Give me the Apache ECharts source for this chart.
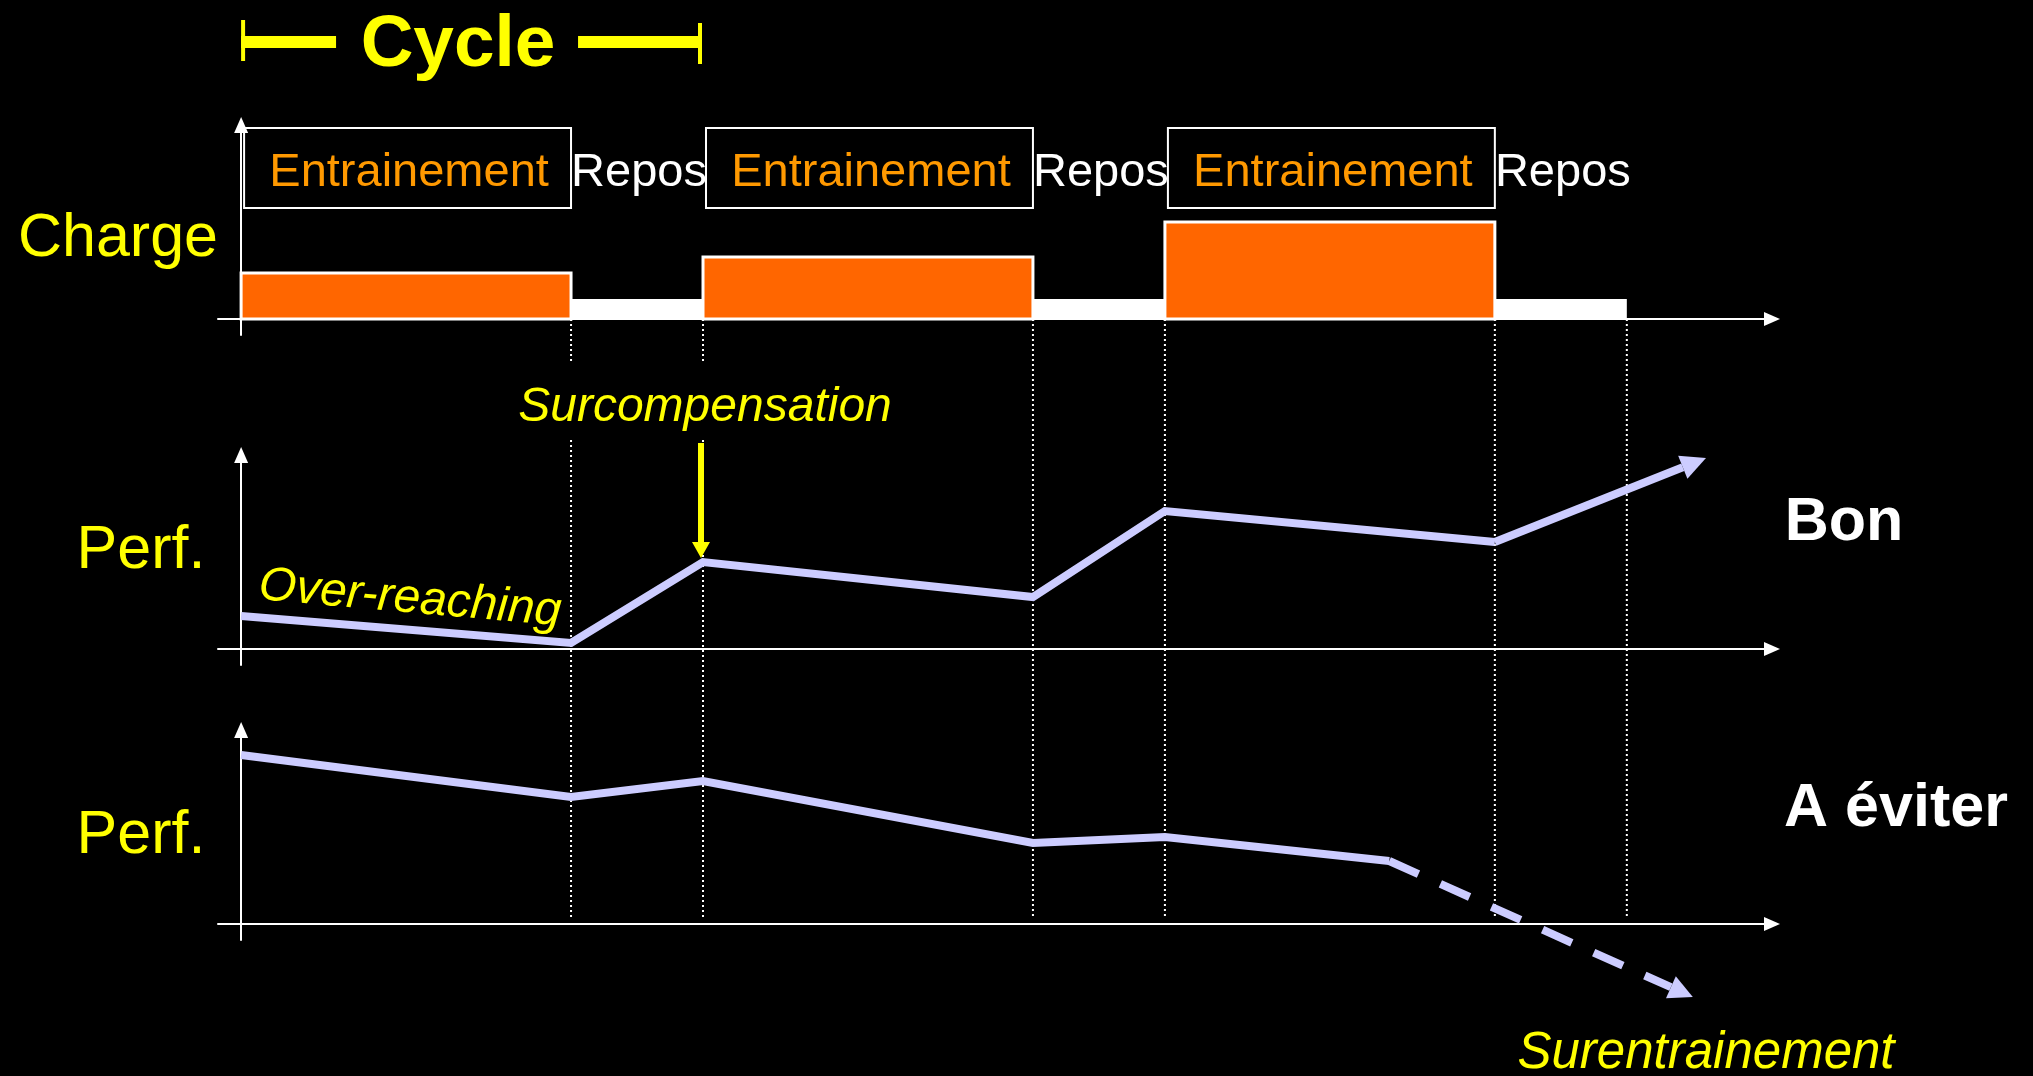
<!DOCTYPE html>
<html>
<head>
<meta charset="utf-8">
<style>
  html, body { margin: 0; padding: 0; background: #000; }
  #chart { width: 2033px; height: 1076px; }
</style>
<script src="https://cdn.jsdelivr.net/npm/echarts@6/dist/echarts.min.js"></script>
</head>
<body>
<div id="chart"></div>
<script>
// Training cycle: alternating load and recovery phases (time in weeks)
const phaseNames   = ['Entrainement', 'Repos', 'Entrainement', 'Repos', 'Entrainement', 'Repos'];
const phaseStart   = [0, 5, 7, 12, 14, 19];
const phaseEnd     = [5, 7, 12, 14, 19, 21];
const chargeValues = [4.6, 2.0, 6.2, 2.0, 9.7, 2.0];

// Performance when recovery is sufficient
const bonX        = [0, 5, 7, 12, 14, 19];
const bonPerf     = [3.3, 0.6, 8.7, 5.2, 13.8, 10.7];
const bonTrendEnd = [22.2, 19.1];

// Performance when recovery is insufficient
const eviterX        = [0, 5, 7, 12, 14, 17.4];
const eviterPerf     = [16.9, 12.7, 14.3, 8.1, 8.7, 6.3];
const eviterTrendEnd = [22.0, -7.3];

const FONT = '"Liberation Sans", Arial, Helvetica, sans-serif';
const YELLOW = '#FFFF00';
const LAVENDER = '#CCCCFF';
const X_MIN = -0.35, X_MAX = 23.2;
const Y_MIN = -1.6, Y_MAX = 19.4;

const chart = echarts.init(document.getElementById('chart'));

function xAxisFor(grid, visible) {
  return {
    type: 'value', gridIndex: grid, min: X_MIN, max: X_MAX, show: visible,
    axisLine: { show: true, onZero: true, symbol: ['none', 'triangle'], symbolSize: [14, 16],
                lineStyle: { color: '#fff', width: 2 } },
    axisTick: { show: false }, axisLabel: { show: false }, splitLine: { show: false }
  };
}
function yAxisFor(grid) {
  return {
    type: 'value', gridIndex: grid, min: Y_MIN, max: Y_MAX,
    axisLine: { show: true, onZero: true, symbol: ['none', 'triangle'], symbolSize: [14, 16],
                lineStyle: { color: '#fff', width: 2 } },
    axisTick: { show: false }, axisLabel: { show: false }, splitLine: { show: false }
  };
}

// Straight segment ending with a filled arrow head
function arrowChildren(from, to, color, width, headLen, headWidth, dash) {
  const dx = to[0] - from[0], dy = to[1] - from[1];
  const len = Math.hypot(dx, dy);
  const ux = dx / len, uy = dy / len;
  const bx = to[0] - ux * headLen, by = to[1] - uy * headLen;
  const nx = -uy * headWidth / 2, ny = ux * headWidth / 2;
  return [
    { type: 'line', shape: { x1: from[0], y1: from[1], x2: bx, y2: by },
      style: { stroke: color, lineWidth: width, lineDash: dash || null, lineCap: 'butt' } },
    { type: 'polygon', shape: { points: [[to[0], to[1]], [bx + nx, by + ny], [bx - nx, by - ny]] },
      style: { fill: color } }
  ];
}

const phaseData = phaseNames.map((n, i) => [phaseStart[i], phaseEnd[i], chargeValues[i], i]);

const option = {
  backgroundColor: '#000',
  animation: false,
  grid: [
    { left: 218, width: 1554, top: 125, height: 210 },
    { left: 218, width: 1554, top: 455, height: 210 },
    { left: 218, width: 1554, top: 730, height: 210 },
    { left: 218, width: 1554, top: 319, height: 598 }
  ],
  xAxis: [xAxisFor(0, true), xAxisFor(1, true), xAxisFor(2, true), xAxisFor(3, false)],
  yAxis: [yAxisFor(0), yAxisFor(1), yAxisFor(2),
          { type: 'value', gridIndex: 3, min: 0, max: 598, inverse: true, show: false }],
  series: [
    // phase boundaries, dotted, running through all three panels
    {
      type: 'custom', name: 'limites', xAxisIndex: 3, yAxisIndex: 3, z: 1, clip: false,
      data: phaseEnd.map(x => [x]),
      renderItem(params, api) {
        const x = api.value(0);
        const top = api.coord([x, 0]), bottom = api.coord([x, 598]);
        const style = { stroke: '#fff', lineWidth: 2, lineDash: [2, 3] };
        const ranges = x <= phaseStart[2] ? [[0, 43], [121, 598]] : [[0, 598]];
        return { type: 'group', children: ranges.map(r => ({
          type: 'line',
          shape: { x1: top[0], y1: api.coord([x, r[0]])[1], x2: bottom[0], y2: api.coord([x, r[1]])[1] },
          style
        })) };
      }
    },
    // load bars
    {
      type: 'custom', name: 'Charge', xAxisIndex: 0, yAxisIndex: 0, z: 3, clip: false,
      data: phaseData,
      renderItem(params, api) {
        const i = api.value(3);
        const p0 = api.coord([api.value(0), api.value(2)]);
        const p1 = api.coord([api.value(1), 0]);
        const training = phaseNames[i] === 'Entrainement';
        return {
          type: 'rect',
          shape: { x: p0[0], y: p0[1], width: p1[0] - p0[0], height: p1[1] - p0[1] },
          style: { fill: training ? '#FF6600' : '#FFFFFF', stroke: '#FFFFFF', lineWidth: training ? 3 : 0 }
        };
      }
    },
    // phase names above the bars
    {
      type: 'custom', name: 'phases', xAxisIndex: 0, yAxisIndex: 0, z: 3, clip: false,
      data: phaseData,
      renderItem(params, api) {
        const i = api.value(3);
        const a = api.coord([api.value(0), 0]);
        const b = api.coord([api.value(1), 0]);
        const training = phaseNames[i] === 'Entrainement';
        const children = [];
        if (training) {
          children.push({ type: 'rect',
            shape: { x: a[0] + 3, y: a[1] - 191, width: b[0] - a[0] - 3, height: 80 },
            style: { fill: null, stroke: '#fff', lineWidth: 2 } });
        }
        children.push({ type: 'text', x: (a[0] + b[0]) / 2 + (training ? 3 : 2), y: a[1] - 146,
          style: { text: phaseNames[i], fill: training ? '#FF9900' : '#FFFFFF',
                   font: '47px ' + FONT, align: 'center', verticalAlign: 'middle' } });
        return { type: 'group', children };
      }
    },
    // one cycle = one training block plus its rest
    {
      type: 'custom', name: 'cycle', xAxisIndex: 0, yAxisIndex: 0, z: 3, clip: false,
      data: [[phaseStart[0], phaseEnd[1]]],
      renderItem(params, api) {
        const a = api.coord([api.value(0), 0]);
        const b = api.coord([api.value(1), 0]);
        const y = a[1] - 277;
        const cx = (a[0] + b[0]) / 2 - 14;
        return { type: 'group', children: [
          { type: 'rect', shape: { x: a[0], y: y - 22, width: 4, height: 41 }, style: { fill: YELLOW } },
          { type: 'rect', shape: { x: a[0], y: y - 6, width: cx - 122 - a[0], height: 12 }, style: { fill: YELLOW } },
          { type: 'rect', shape: { x: cx + 120, y: y - 6, width: b[0] - 4 - cx - 120, height: 12 }, style: { fill: YELLOW } },
          { type: 'rect', shape: { x: b[0] - 5, y: y - 19, width: 4, height: 41 }, style: { fill: YELLOW } },
          { type: 'text', x: cx, y: y + 4,
            style: { text: 'Cycle', fill: YELLOW, font: 'bold 73px ' + FONT, align: 'center', verticalAlign: 'middle' } }
        ] };
      }
    },
    // good adaptation
    {
      type: 'line', name: 'Bon', xAxisIndex: 1, yAxisIndex: 1, z: 4,
      symbol: 'none', clip: false,
      data: bonX.map((x, i) => [x, bonPerf[i]]),
      lineStyle: { color: LAVENDER, width: 8, join: 'miter' }
    },
    {
      type: 'custom', name: 'Bon tendance', xAxisIndex: 1, yAxisIndex: 1, z: 4, clip: false,
      data: [[bonX[bonX.length - 1], bonPerf[bonPerf.length - 1], bonTrendEnd[0], bonTrendEnd[1]]],
      renderItem(params, api) {
        const from = api.coord([api.value(0), api.value(1)]);
        const to = api.coord([api.value(2), api.value(3)]);
        return { type: 'group', children: arrowChildren(from, to, LAVENDER, 8, 25, 25) };
      }
    },
    // supercompensation peak after the first rest
    {
      type: 'custom', name: 'surcompensation', xAxisIndex: 1, yAxisIndex: 1, z: 5, clip: false,
      data: [[bonX[2], bonPerf[2]]],
      renderItem(params, api) {
        const p = api.coord([api.value(0), api.value(1)]);
        const tip = [p[0] - 2, p[1] - 4];
        const start = [tip[0], tip[1] - 115];
        return { type: 'group', children: arrowChildren(start, tip, YELLOW, 6, 16, 18).concat([
          { type: 'text', x: p[0] + 2, y: start[1] - 35,
            style: { text: 'Surcompensation', fill: YELLOW, font: 'italic 48px ' + FONT,
                     align: 'center', verticalAlign: 'middle' } }
        ]) };
      }
    },
    // poor adaptation
    {
      type: 'line', name: 'A éviter', xAxisIndex: 2, yAxisIndex: 2, z: 4,
      symbol: 'none', clip: false,
      data: eviterX.map((x, i) => [x, eviterPerf[i]]),
      lineStyle: { color: LAVENDER, width: 8, join: 'miter' }
    },
    {
      type: 'custom', name: 'A éviter tendance', xAxisIndex: 2, yAxisIndex: 2, z: 4, clip: false,
      data: [[eviterX[eviterX.length - 1], eviterPerf[eviterPerf.length - 1], eviterTrendEnd[0], eviterTrendEnd[1]]],
      renderItem(params, api) {
        const from = api.coord([api.value(0), api.value(1)]);
        const to = api.coord([api.value(2), api.value(3)]);
        return { type: 'group', children: arrowChildren(from, to, LAVENDER, 8, 24, 24, [32, 24]) };
      }
    }
  ],
  graphic: [
    { type: 'text', x: 118, y: 239, style: { text: 'Charge', fill: YELLOW, font: '61px ' + FONT, align: 'center', verticalAlign: 'middle' } },
    { type: 'text', x: 141, y: 551, style: { text: 'Perf.', fill: YELLOW, font: '61px ' + FONT, align: 'center', verticalAlign: 'middle' } },
    { type: 'text', x: 141, y: 836, style: { text: 'Perf.', fill: YELLOW, font: '61px ' + FONT, align: 'center', verticalAlign: 'middle' } },
    { type: 'text', x: 1844, y: 523, style: { text: 'Bon', fill: '#fff', font: 'bold 61px ' + FONT, align: 'center', verticalAlign: 'middle' } },
    { type: 'text', x: 1896, y: 809, style: { text: 'A éviter', fill: '#fff', font: 'bold 61px ' + FONT, align: 'center', verticalAlign: 'middle' } },
    { type: 'text', x: 410, y: 599, rotation: -5 * Math.PI / 180,
      style: { text: 'Over-reaching', fill: YELLOW, font: 'italic 48px ' + FONT, align: 'center', verticalAlign: 'middle' } },
    { type: 'text', x: 1706, y: 1054, style: { text: 'Surentrainement', fill: YELLOW, font: 'italic 51px ' + FONT, align: 'center', verticalAlign: 'middle' } }
  ]
};

chart.setOption(option);
</script>
</body>
</html>
